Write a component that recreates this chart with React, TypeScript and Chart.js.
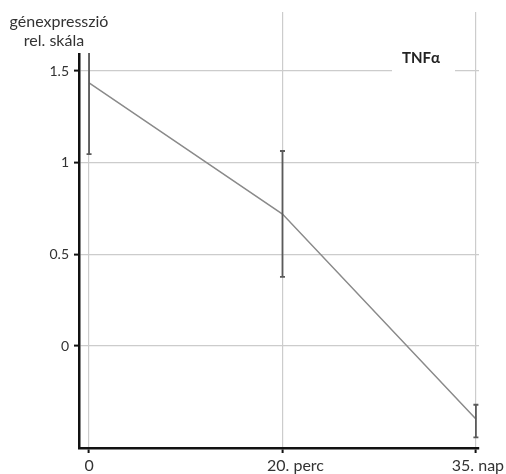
import React, { useEffect, useRef } from "react";
import { Chart, registerables } from "chart.js";

Chart.register(...registerables);

const categories = ["0", "20. perc", "35. nap"];
const means = [1.435, 0.72, -0.398];
const errUp = [0.39, 0.344, 0.078];
const errDown = [0.388, 0.343, 0.1];
const yTicks = [0, 0.5, 1, 1.5];
const chartTitle = "TNFα";
const yTitleLines = ["génexpresszió", "rel. skála"];

const FONT = "Lato, 'Open Sans', sans-serif";

const errorBarPlugin = {
  id: "errorBars",
  afterDatasetsDraw(chart: any) {
    const { ctx, scales, chartArea } = chart;
    const xs = scales.x;
    const ys = scales.y;
    ctx.save();
    ctx.beginPath();
    ctx.rect(chartArea.left, chartArea.top, chartArea.right - chartArea.left, chartArea.bottom - chartArea.top);
    ctx.clip();
    ctx.strokeStyle = "#5a5a5a";
    ctx.lineWidth = 1.8;
    means.forEach((m, i) => {
      const x = xs.getPixelForValue(i);
      const yTop = ys.getPixelForValue(m + errUp[i]);
      const yBot = ys.getPixelForValue(m - errDown[i]);
      ctx.beginPath();
      ctx.moveTo(x, yTop);
      ctx.lineTo(x, yBot);
      ctx.moveTo(x - 2.5, yTop);
      ctx.lineTo(x + 2.5, yTop);
      ctx.moveTo(x - 2.5, yBot);
      ctx.lineTo(x + 2.5, yBot);
      ctx.stroke();
    });
    ctx.restore();
  },
};

const labelsPlugin = {
  id: "labels",
  afterDraw(chart: any) {
    const { ctx, scales } = chart;
    ctx.save();
    // x tick labels (slightly offset as in the original figure)
    const xShift = [0, 13, 2];
    ctx.fillStyle = "#333";
    ctx.font = `16px ${FONT}`;
    ctx.textAlign = "center";
    ctx.textBaseline = "alphabetic";
    categories.forEach((c, i) => {
      ctx.fillText(c, scales.x.getPixelForValue(i) + xShift[i], 471);
    });
    // y-axis title box
    ctx.fillStyle = "#fff";
    ctx.fillRect(0, 0, 112, 53);
    ctx.fillStyle = "#333";
    ctx.font = `16px ${FONT}`;
    ctx.fillText(yTitleLines[0], 59, 27);
    ctx.fillText(yTitleLines[1], 54, 46);
    // chart title box
    ctx.fillStyle = "#fff";
    ctx.fillRect(392, 44, 63, 30);
    ctx.fillStyle = "#222";
    ctx.font = `bold 15px ${FONT}`;
    ctx.fillText(chartTitle, 421, 63);
    ctx.restore();
  },
};

export default function App() {
  const ref = useRef<HTMLCanvasElement>(null);
  useEffect(() => {
    document.body.style.margin = "0";
    const chart = new Chart(ref.current!, {
      type: "line",
      data: {
        datasets: [
          {
            data: means.map((m, i) => ({ x: i, y: m })),
            borderColor: "#8a8a8a",
            borderWidth: 1.5,
            pointRadius: 0,
            fill: false,
            tension: 0,
          },
        ],
      },
      options: {
        animation: false,
        responsive: false,
        maintainAspectRatio: false,
        layout: { padding: { top: 12, right: 27, left: 0, bottom: 0 } },
        plugins: { legend: { display: false }, tooltip: { enabled: false } },
        scales: {
          x: {
            type: "linear",
            min: -0.052,
            max: 2.016,
            afterBuildTicks: (s: any) => {
              s.ticks = categories.map((_, i) => ({ value: i }));
            },
            afterFit: (s: any) => {
              s.height = 26;
              s.paddingLeft = 0;
              s.paddingRight = 0;
            },
            ticks: {
              display: false,
              callback: (v: any) => categories[v] ?? "",
              autoSkip: false,
              maxRotation: 0,
            },
            grid: {
              color: "#cccccc",
              lineWidth: 1.2,
              tickColor: "#111",
              tickLength: 5,
              tickWidth: 2,
            },
            border: { color: "#111", width: 2.5 },
          },
          y: {
            type: "linear",
            min: -0.556,
            max: 1.822,
            afterBuildTicks: (s: any) => {
              s.ticks = yTicks.map((v) => ({ value: v }));
            },
            afterFit: (s: any) => {
              s.width = 79;
              s.paddingTop = 0;
              s.paddingBottom = 0;
            },
            ticks: {
              callback: (v: any) => String(v),
              padding: 5,
              color: "#333",
              font: { family: FONT, size: 14 },
            },
            grid: {
              color: "#cccccc",
              lineWidth: 1.2,
              tickColor: "#111",
              tickLength: 5,
              tickWidth: 2,
            },
            border: { color: "#111", width: 2.5 },
          },
        },
      },
      plugins: [errorBarPlugin, labelsPlugin],
    });
    return () => chart.destroy();
  }, []);
  return (
    <div style={{ width: 506, height: 474 }}>
      <canvas ref={ref} width={506} height={474} style={{ width: 506, height: 474 }} />
    </div>
  );
}
